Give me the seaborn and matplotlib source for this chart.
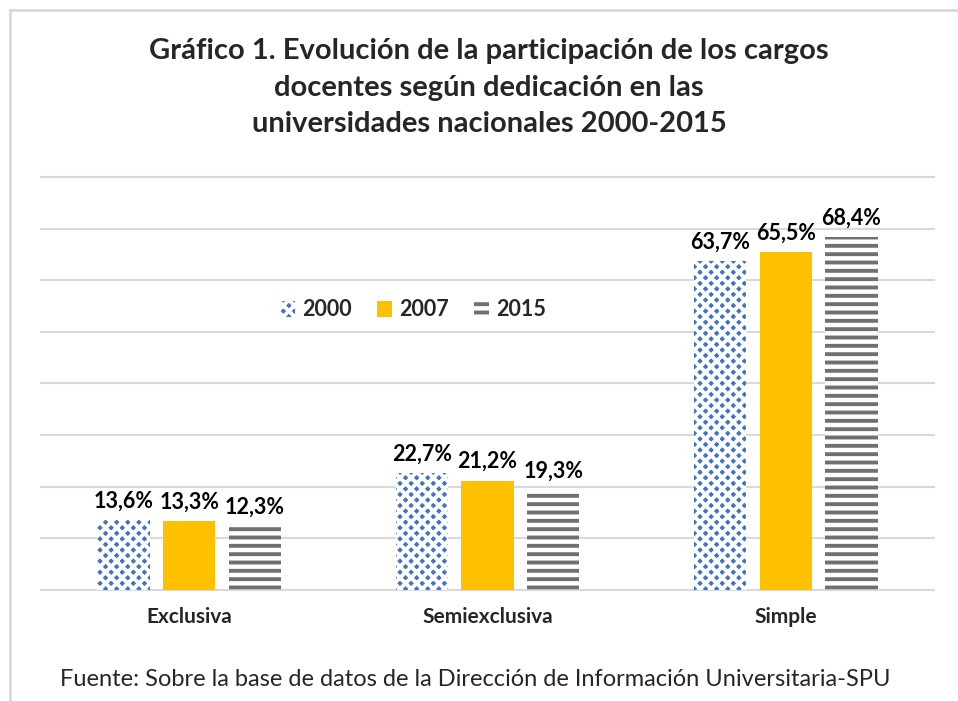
import numpy as np
import pandas as pd
import matplotlib
matplotlib.use("Agg")
import matplotlib.pyplot as plt
import seaborn as sns
from matplotlib.lines import Line2D
from matplotlib.patches import Patch

# --- datos ---
categorias = ["Exclusiva", "Semiexclusiva", "Simple"]
anios = ["2000", "2007", "2015"]
valores_2000 = [13.6, 22.7, 63.7]
valores_2007 = [13.3, 21.2, 65.5]
valores_2015 = [12.3, 19.3, 68.4]

titulo = ("Gráfico 1. Evolución de la participación de los cargos\n"
          "docentes según dedicación en las\n"
          "universidades nacionales 2000-2015")
fuente = "Fuente: Sobre la base de datos de la Dirección de Información Universitaria-SPU"

df = pd.DataFrame({
    "Dedicación": categorias * 3,
    "Año": [a for a in anios for _ in categorias],
    "Porcentaje": valores_2000 + valores_2007 + valores_2015,
})

# --- estilo ---
sns.set_style("white")
plt.rcParams["font.family"] = ["Lato", "DejaVu Sans"]
plt.rcParams["hatch.linewidth"] = 2.8

AZUL = "#4472C4"
AMARILLO = "#FFC000"
GRIS = "#707070"

fig = plt.figure(figsize=(9.58, 7.01), dpi=100)
ax = fig.add_axes([40 / 958, 1 - 592 / 701, 895 / 958, (592 - 175) / 701])

sns.barplot(data=df, x="Dedicación", y="Porcentaje", hue="Año",
            palette=[AZUL, AMARILLO, "white"], width=0.66, gap=0.2,
            legend=False, ax=ax)

# patrones de relleno por serie
for cont, anio in zip(ax.containers, anios):
    for barra in cont:
        if anio == "2000":
            barra.set_facecolor(AZUL)
            barra.set_edgecolor("white")
            barra.set_hatch("xxx")
            barra.set_linewidth(0)
        elif anio == "2007":
            barra.set_facecolor(AMARILLO)
            barra.set_edgecolor(AMARILLO)
            barra.set_linewidth(0)
        else:
            barra.set_facecolor("white")
            barra.set_edgecolor(GRIS)
            barra.set_hatch("--")
            barra.set_linewidth(0)
    ax.bar_label(cont, labels=[f"{v:.1f}%".replace(".", ",") for v in cont.datavalues],
                 padding=6, fontsize=15.5, fontweight="bold", color="black")

ax.set_ylim(-0.4, 80.4)
ax.set_xlim(-0.5, 2.5)
ax.set_yticks(np.arange(0, 81, 10))
ax.set_yticklabels([])
ax.tick_params(axis="y", length=0)
ax.tick_params(axis="x", length=0, pad=11)
ax.grid(axis="y", color="#D9D9D9", linewidth=1.5)
ax.set_axisbelow(True)
for lado in ax.spines.values():
    lado.set_visible(False)
ax.set_xlabel("")
ax.set_ylabel("")
for t in ax.get_xticklabels():
    t.set_fontsize(15)
    t.set_fontweight("bold")

# leyenda
manejadores = [
    Patch(facecolor=AZUL, edgecolor="white", hatch="xxx", linewidth=0),
    Patch(facecolor=AMARILLO, edgecolor=AMARILLO, linewidth=0),
    Patch(facecolor="white", edgecolor=GRIS, hatch="--", linewidth=0),
]
ax.legend(manejadores, anios, loc="center", bbox_to_anchor=(413 / 958, 1 - 310 / 701),
          bbox_transform=fig.transFigure, ncol=3, frameon=False,
          prop={"size": 15.5, "weight": "bold"}, handlelength=0.7, handleheight=0.7,
          handletextpad=0.3, columnspacing=1.2)

fig.text(489 / 958, 1 - 88 / 701, titulo, ha="center", va="center", fontsize=21,
         fontweight="bold", linespacing=1.5)
fig.text(475 / 958, 1 - 680 / 701, fuente, ha="center", va="center", fontsize=17)

# marco superior e izquierdo
fig.add_artist(Line2D([10 / 958, 10 / 958], [0, 1 - 10 / 701], transform=fig.transFigure,
                      color="#D9D9D9", linewidth=2))
fig.add_artist(Line2D([10 / 958, 1], [1 - 10 / 701, 1 - 10 / 701], transform=fig.transFigure,
                      color="#D9D9D9", linewidth=2))

fig.savefig("out.png", dpi=100)
